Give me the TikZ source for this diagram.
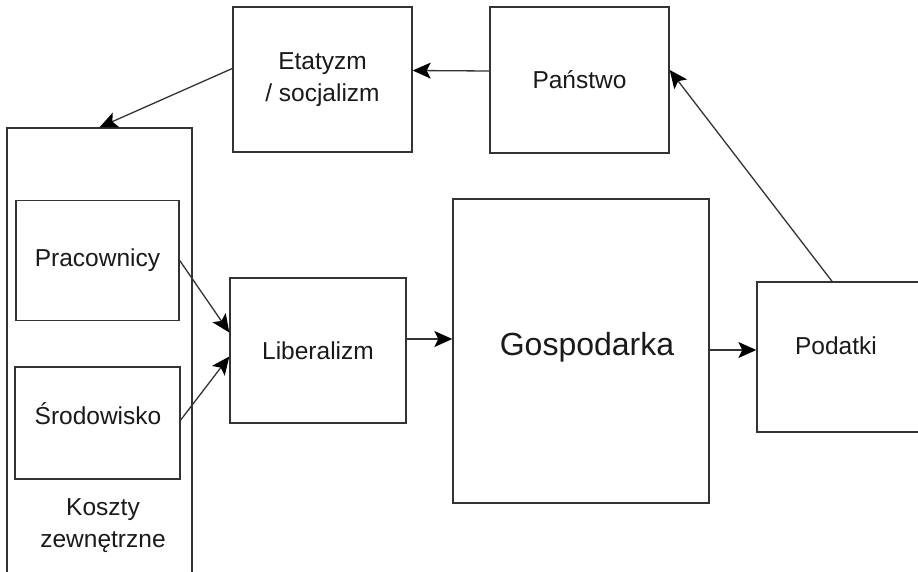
\documentclass[tikz,border=0pt]{standalone}
\usepackage{fontspec}
\setmainfont{Liberation Sans}
\usetikzlibrary{arrows.meta}
\definecolor{ln}{HTML}{333333}
\definecolor{tx}{HTML}{1A1A1A}
\begin{document}
\begin{tikzpicture}[x=1pt,y=-1pt,
 box/.style={draw=ln,line width=1.4pt,rectangle,inner sep=0pt,fill=white,text=tx,font=\fontsize{24.5}{32}\selectfont,align=center},
 lbl/.style={text=tx,font=\fontsize{24.5}{32}\selectfont,align=center,inner sep=0pt},
 con/.style={draw=ln,line width=1.3pt,-{Stealth[length=18pt,width=16pt,inset=4pt,color=black]}}]
\useasboundingbox (0,0) rectangle (918,572);
\clip (0,0) rectangle (918,572);

\node[box,minimum width=185pt,minimum height=462pt] (kos) at (99.5,359) {};
\node[box,minimum width=163pt,minimum height=120pt] (pra) at (97.5,260.5) {Pracownicy};
\node[box,minimum width=165pt,minimum height=112pt] (sro) at (97.5,423) {};
\node[lbl] (srot) at (98,414) {Środowisko};
\node[lbl] (kost) at (103,526) {Koszty\\zewnętrzne};
\node[box,minimum width=179pt,minimum height=145pt] (eta) at (322.5,79.5) {Etatyzm\\/ socjalizm};
\node[box,minimum width=179pt,minimum height=146pt] (pan) at (579.5,80) {Państwo};
\node[box,minimum width=176pt,minimum height=145pt] (lib) at (318,350.5) {Liberalizm};
\node[box,minimum width=256pt,minimum height=304pt] (gos) at (581,351) {};
\node[lbl,font=\fontsize{32}{38}\selectfont] (gost) at (587,347) {Gospodarka};
\node[box,minimum width=170pt,minimum height=150pt] (pod) at (842,357) {};
\node[lbl] (podt) at (836,346) {Podatki};

\draw[con] ([yshift=9pt]pan.west) -- ([yshift=9pt]eta.east);
\draw[con] ([yshift=11pt]eta.west) -- (kos.north);
\draw[con] (pra.east) -- ([yshift=18pt]lib.west);
\draw[con] ([yshift=3pt]sro.east) -- ([yshift=-6pt]lib.west);
\draw[con] ([yshift=11.5pt]lib.east) -- ([yshift=12pt]gos.west);
\draw[con] ([yshift=1pt]gos.east) -- ([yshift=7pt]pod.west);
\draw[con] ([xshift=-10pt]pod.north) -- ([yshift=10pt]pan.east);
\end{tikzpicture}
\end{document}
